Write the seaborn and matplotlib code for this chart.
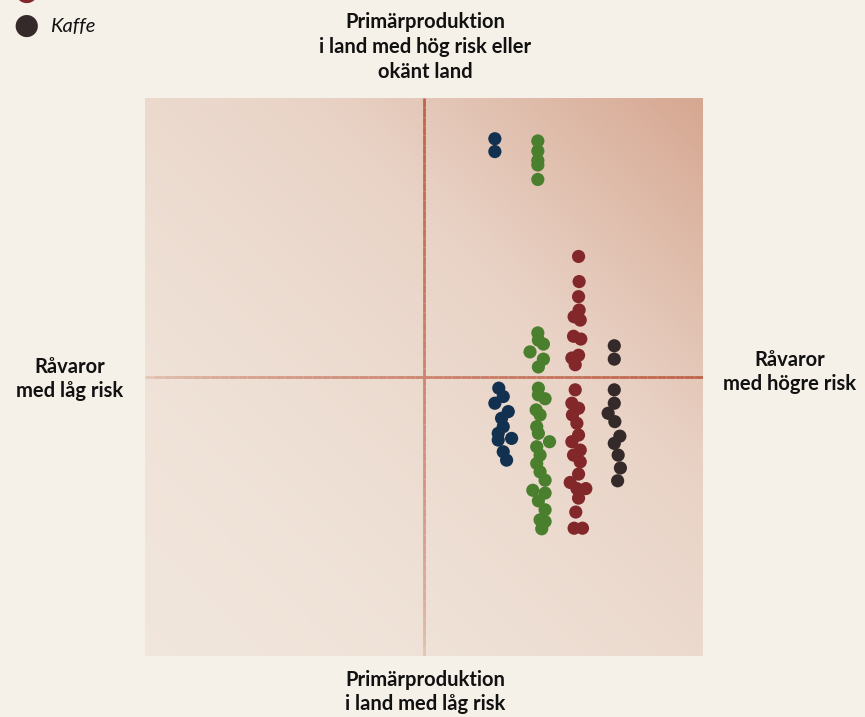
import numpy as np
import pandas as pd
import matplotlib
matplotlib.use('Agg')
import matplotlib.pyplot as plt
import seaborn as sns
from matplotlib.colors import LinearSegmentedColormap, to_rgb

# Positions, on a 0-10 scale for both axes (5 = midlines)
soja_x = [6.27, 6.27, 6.34, 6.42, 6.27, 6.51, 6.39, 6.42, 6.33, 6.57, 6.33, 6.42, 6.48]
soja_y = [9.27, 9.04, 4.80, 4.65, 4.53, 4.38, 4.26, 4.11, 3.99, 3.90, 3.87, 3.66, 3.51]

palm_x = [7.04, 7.04, 7.04, 7.04, 7.04,
          7.04, 7.05, 7.14, 6.90, 7.14, 7.05,
          7.05, 7.05, 7.17, 7.01, 7.08, 7.02, 7.05, 7.25, 7.02, 7.08,
          7.02, 7.08, 7.17, 6.95, 7.17, 7.05, 7.17, 7.08, 7.17, 7.11]
palm_y = [9.23, 9.05, 8.88, 8.80, 8.54,
          5.79, 5.66, 5.59, 5.45, 5.32, 5.18,
          4.80, 4.68, 4.61, 4.41, 4.32, 4.11, 3.99, 3.84, 3.75, 3.60,
          3.45, 3.30, 3.15, 2.97, 2.92, 2.78, 2.62, 2.44, 2.41, 2.28]

kakao_x = [7.77, 7.78, 7.77, 7.78, 7.69, 7.80, 7.68, 7.81, 7.77, 7.65, 7.71,
           7.71, 7.65, 7.77, 7.66, 7.74, 7.77, 7.65, 7.80, 7.68, 7.80,
           7.77, 7.62, 7.90, 7.74, 7.77, 7.72, 7.69, 7.84]
kakao_y = [7.16, 6.71, 6.44, 6.20, 6.08, 6.02, 5.73, 5.68, 5.39, 5.34, 5.22,
           4.77, 4.53, 4.44, 4.32, 4.17, 3.96, 3.84, 3.69, 3.60, 3.48,
           3.26, 3.11, 3.00, 3.00, 2.83, 2.58, 2.29, 2.29]

kaffe_x = [8.41, 8.41, 8.41, 8.41, 8.30, 8.42, 8.51, 8.41, 8.48, 8.52, 8.47]
kaffe_y = [5.56, 5.32, 4.77, 4.53, 4.35, 4.20, 3.94, 3.81, 3.60, 3.37, 3.14]

groups = ['Soja', 'Palmolja', 'Kakao', 'Kaffe']
colors = ['#12304f', '#4a7f2e', '#82272a', '#352a2a']

df = pd.concat([
    pd.DataFrame({'x': soja_x, 'y': soja_y, 'grupp': 'Soja'}),
    pd.DataFrame({'x': palm_x, 'y': palm_y, 'grupp': 'Palmolja'}),
    pd.DataFrame({'x': kakao_x, 'y': kakao_y, 'grupp': 'Kakao'}),
    pd.DataFrame({'x': kaffe_x, 'y': kaffe_y, 'grupp': 'Kaffe'}),
], ignore_index=True)

bg = '#f5f0e8'
line_col = '#c0634a'
plt.rcParams['font.family'] = ['Lato', 'DejaVu Sans']

fig = plt.figure(figsize=(8.65, 7.17), dpi=100, facecolor=bg)
ax = fig.add_axes([145 / 865, 61 / 717, 558 / 865, 558 / 717])
ax.set_xlim(0, 10)
ax.set_ylim(0, 10)

# diagonal gradient background, light bottom-left to rosy top-right
gx, gy = np.meshgrid(np.linspace(0, 1, 300), np.linspace(0, 1, 300))
t = ((gx + gy) / 2) ** 1.6
cmap = LinearSegmentedColormap.from_list('bg', ['#f1e6dc', '#e9d3c6', '#d6a791'])
ax.imshow(t, cmap=cmap, extent=[0, 10, 0, 10], origin='lower', aspect='auto', zorder=0)

# midlines, fading towards the low-risk ends (opaque blended colours, butt caps -> no seams)
n = 60
lc = np.array(to_rgb(line_col))
pale = np.array(to_rgb('#ecdcd0'))
for i in range(n):
    a = 0.2 + 0.8 * (i / (n - 1)) ** 0.6
    c = pale * (1 - a) + lc * a
    ax.axvline(5, ymin=i / n, ymax=(i + 1) / n, color=c, lw=2, solid_capstyle='butt', zorder=1)
    ax.axhline(5, xmin=i / n, xmax=(i + 1) / n, color=c, lw=2, solid_capstyle='butt', zorder=1)

sns.scatterplot(data=df, x='x', y='y', hue='grupp', hue_order=groups, palette=colors,
                s=90, linewidth=0, legend=False, ax=ax, zorder=3)

ax.set_axis_off()

# axis labels
lab = dict(fontsize=14.5, fontweight='bold', color='#111111', ha='center', va='center',
           linespacing=1.3)
fig.text(425 / 865, 1 - 47 / 717, 'Primärproduktion\ni land med hög risk eller\nokänt land', **lab)
fig.text(425 / 865, 1 - 692 / 717, 'Primärproduktion\ni land med låg risk', **lab)
fig.text(70 / 865, 1 - 379 / 717, 'Råvaror\nmed låg risk', **lab)
fig.text(790 / 865, 1 - 372 / 717, 'Råvaror\nmed högre risk', **lab)

# legend (partly outside the canvas at the top)
leg_y = [-8, 26]
for c, name, yy in zip(colors[2:], groups[2:], leg_y):
    fig.text(26 / 865, 1 - yy / 717, '\u25cf', color=c, fontsize=21, ha='center', va='center',
             family='DejaVu Sans')
    fig.text(50 / 865, 1 - yy / 717, name, fontsize=14.5, style='italic', color='#111111',
             ha='left', va='center')

fig.savefig('out.png', dpi=100, facecolor=bg)
